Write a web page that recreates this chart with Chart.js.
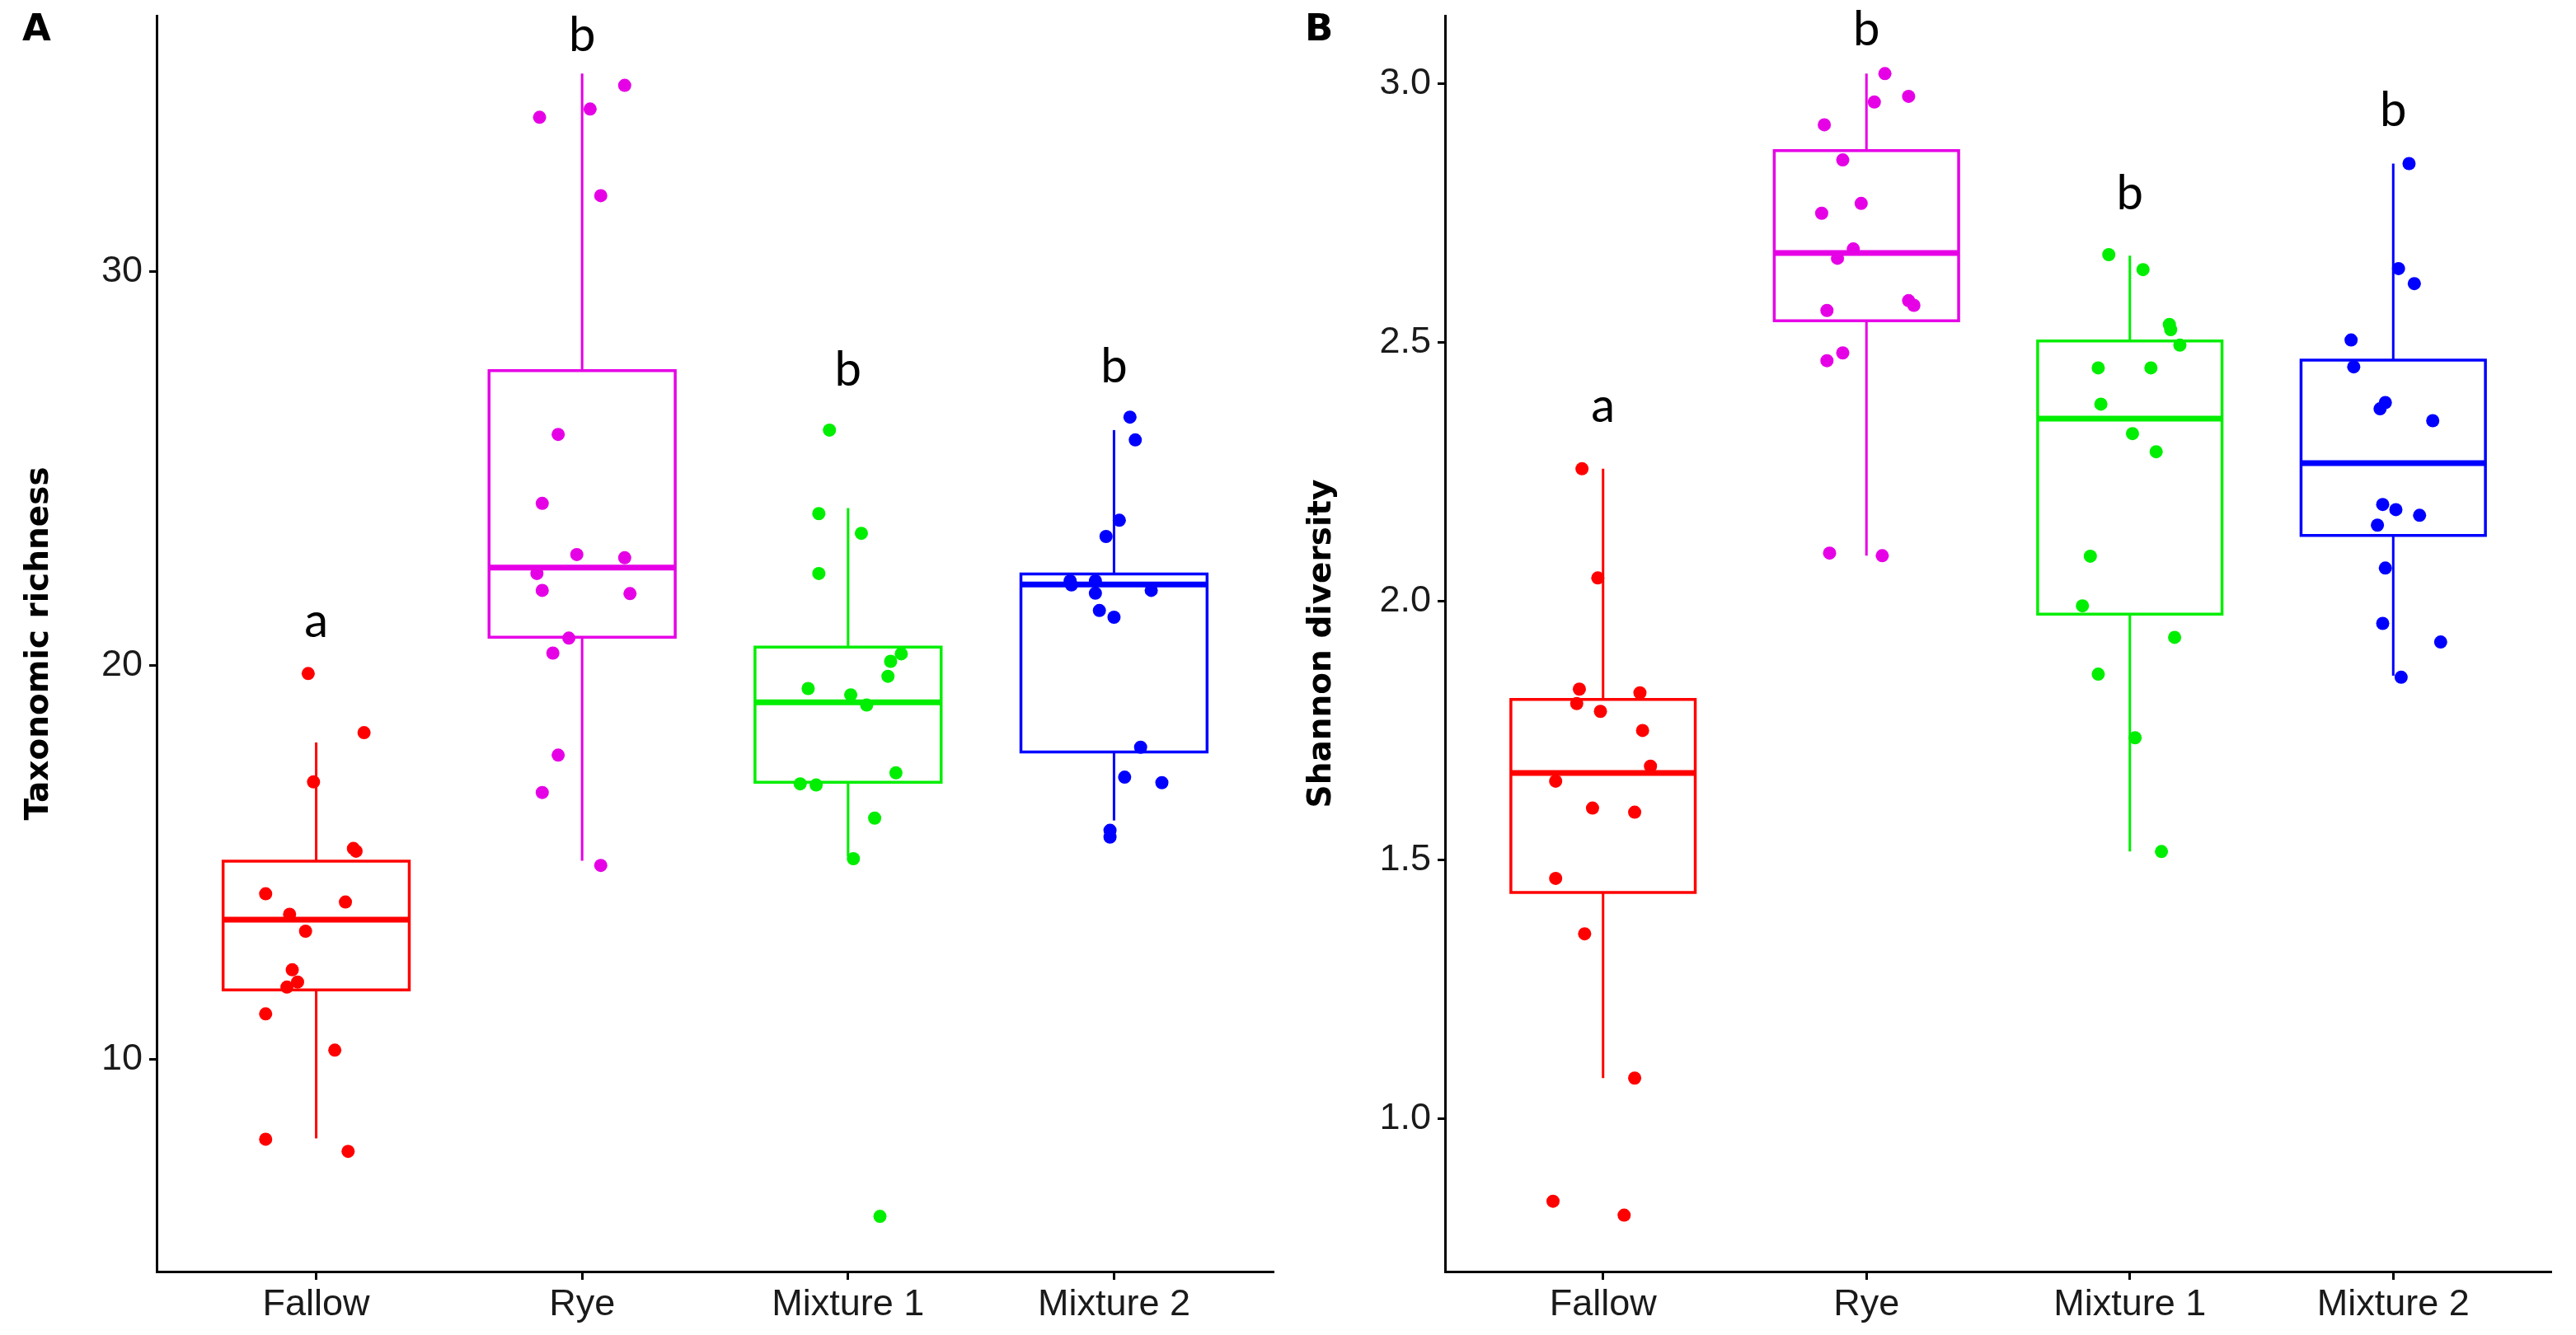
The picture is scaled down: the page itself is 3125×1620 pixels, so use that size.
<!DOCTYPE html>
<html>
<head>
<meta charset="utf-8">
<script src="https://cdn.jsdelivr.net/npm/chart.js@4.4.0/dist/chart.umd.min.js"></script>
<style>
  body { margin: 0; background: #fff; }
  canvas { position: absolute; top: 0; }
  #panelA { left: 0; }
  #panelB { left: 1562px; }
</style>
</head>
<body>
<canvas id="panelA" width="1562" height="1620"></canvas>
<canvas id="panelB" width="1563" height="1620"></canvas>
<script>
// categories and colours
const groups = ['Fallow', 'Rye', 'Mixture 1', 'Mixture 2'];
const groupColors = ['#ff0000', '#e600e6', '#00ee00', '#0000ff'];

// --- A: taxonomic richness, jittered points (value, horizontal jitter in category units)
const richFallow    = [19.8, 18.3, 17.05, 15.36, 15.29, 14.21, 14.0, 13.69, 13.26, 12.28, 11.97, 11.84, 11.16, 10.24, 7.98, 7.67];
const richFallowJit = [-0.03, 0.18, -0.01, 0.14, 0.15, -0.19, 0.11, -0.10, -0.04, -0.09, -0.07, -0.11, -0.19, 0.07, -0.19, 0.12];
const richRye       = [34.73, 34.13, 33.92, 31.93, 25.87, 24.12, 22.82, 22.74, 22.34, 21.91, 21.83, 20.70, 20.32, 17.73, 16.78, 14.93];
const richRyeJit    = [0.16, 0.03, -0.16, 0.07, -0.09, -0.15, -0.02, 0.16, -0.17, -0.15, 0.18, -0.05, -0.11, -0.09, -0.15, 0.07];
const richMix1      = [25.98, 23.86, 23.36, 22.34, 20.30, 20.11, 19.73, 19.42, 19.26, 19.0, 17.28, 17.0, 16.97, 16.13, 15.10, 6.02];
const richMix1Jit   = [-0.07, -0.11, 0.05, -0.11, 0.20, 0.16, 0.15, -0.15, 0.01, 0.07, 0.18, -0.18, -0.12, 0.10, 0.02, 0.12];
const richMix2      = [26.31, 25.73, 23.69, 23.28, 22.15, 22.05, 22.15, 21.84, 21.91, 21.40, 21.23, 17.93, 17.17, 17.03, 15.82, 15.65];
const richMix2Jit   = [0.06, 0.08, 0.02, -0.03, -0.165, -0.16, -0.07, -0.07, 0.14, -0.055, 0.0, 0.10, 0.04, 0.18, -0.015, -0.015];

// A: box statistics per group
const richLow  = [8.0, 15.05, 15.16, 16.07];
const richQ1   = [11.77, 20.72, 17.04, 17.81];
const richMed  = [13.55, 22.49, 19.07, 22.06];
const richQ3   = [15.04, 27.49, 20.47, 22.33];
const richHigh = [18.05, 35.03, 24.0, 25.98];
const richLetters = ['a', 'b', 'b', 'b'];
const richLetterY = [20.73, 35.6, 27.1, 27.2];
const richTicks = [10, 20, 30];

// --- B: Shannon diversity
const shanFallow    = [2.256, 2.045, 1.830, 1.823, 1.802, 1.787, 1.750, 1.681, 1.652, 1.600, 1.592, 1.464, 1.357, 1.078, 0.840, 0.813];
const shanFallowJit = [-0.08, -0.02, -0.09, 0.14, -0.10, -0.01, 0.15, 0.18, -0.18, -0.04, 0.12, -0.18, -0.07, 0.12, -0.19, 0.08];
const shanRye       = [3.020, 2.965, 2.976, 2.921, 2.853, 2.769, 2.750, 2.681, 2.663, 2.581, 2.572, 2.562, 2.480, 2.465, 2.093, 2.088];
const shanRyeJit    = [0.07, 0.03, 0.16, -0.16, -0.09, -0.02, -0.17, -0.05, -0.11, 0.16, 0.18, -0.15, -0.09, -0.15, -0.14, 0.06];
const shanMix1      = [2.670, 2.641, 2.535, 2.525, 2.495, 2.451, 2.451, 2.381, 2.324, 2.289, 2.087, 1.991, 1.930, 1.859, 1.736, 1.516];
const shanMix1Jit   = [-0.08, 0.05, 0.15, 0.155, 0.19, -0.12, 0.08, -0.11, 0.01, 0.10, -0.15, -0.18, 0.17, -0.12, 0.02, 0.12];
const shanMix2      = [2.846, 2.643, 2.614, 2.505, 2.453, 2.384, 2.372, 2.349, 2.187, 2.177, 2.166, 2.147, 2.064, 1.957, 1.921, 1.853];
const shanMix2Jit   = [0.06, 0.02, 0.08, -0.16, -0.15, -0.03, -0.05, 0.15, -0.04, 0.01, 0.10, -0.06, -0.03, -0.04, 0.18, 0.03];

const shanLow  = [1.078, 2.088, 1.516, 1.856];
const shanQ1   = [1.437, 2.542, 1.975, 2.127];
const shanMed  = [1.668, 2.673, 2.353, 2.267];
const shanQ3   = [1.810, 2.871, 2.503, 2.466];
const shanHigh = [2.256, 3.020, 2.668, 2.846];
const shanLetters = ['a', 'b', 'b', 'b'];
const shanLetterY = [2.347, 3.075, 2.757, 2.919];
const shanTicks = [1.0, 1.5, 2.0, 2.5, 3.0];

const HALF = 0.35; // half box width, category units

function boxSets(lo, q1, med, q3, hi) {
  const out = [];
  groups.forEach((g, i) => {
    const x = i + 1, c = groupColors[i];
    const base = { showLine: true, pointRadius: 0, borderColor: c, fill: false, order: 1, tension: 0 };
    out.push(Object.assign({}, base, { borderWidth: 3.5, borderCapStyle: 'square', borderJoinStyle: 'miter',
      data: [{x: x - HALF, y: q1[i]}, {x: x + HALF, y: q1[i]}, {x: x + HALF, y: q3[i]}, {x: x - HALF, y: q3[i]}, {x: x - HALF, y: q1[i]}] }));
    out.push(Object.assign({}, base, { borderWidth: 7, data: [{x: x - HALF, y: med[i]}, {x: x + HALF, y: med[i]}] }));
    out.push(Object.assign({}, base, { borderWidth: 3, data: [{x: x, y: q3[i]}, {x: x, y: hi[i]}] }));
    out.push(Object.assign({}, base, { borderWidth: 3, data: [{x: x, y: lo[i]}, {x: x, y: q1[i]}] }));
  });
  return out;
}

function pointSets(vals, jits) {
  return vals.map((v, i) => ({
    data: v.map((y, j) => ({x: i + 1 + jits[i][j], y: y})),
    pointRadius: 8, pointHoverRadius: 8, borderWidth: 0,
    backgroundColor: groupColors[i], showLine: false, order: 0
  }));
}

const annot = {
  id: 'annot',
  afterDraw(chart, args, o) {
    const ctx = chart.ctx, xs = chart.scales.x, ys = chart.scales.y, a = chart.chartArea;
    ctx.save();
    ctx.fillStyle = '#000';
    ctx.font = 'bold 45px "DejaVu Sans"';
    ctx.textAlign = 'left';
    ctx.textBaseline = 'alphabetic';
    ctx.fillText(o.panel, o.panelX, 49);

    ctx.font = '58px Lato';
    ctx.textAlign = 'center';
    o.letters.forEach((t, i) => {
      ctx.fillText(t, xs.getPixelForValue(i + 1), ys.getPixelForValue(o.letterY[i]));
    });

    ctx.translate(o.titleX, (a.top + a.bottom) / 2);
    ctx.rotate(-Math.PI / 2);
    ctx.font = 'bold 39px "DejaVu Sans"';
    ctx.textBaseline = 'middle';
    ctx.fillText(o.title, 0, 0);
    ctx.restore();
  }
};

function makePanel(id, cfg) {
  const tickFont = { family: 'Liberation Sans', size: 45 };
  new Chart(document.getElementById(id), {
    type: 'scatter',
    data: { datasets: boxSets(cfg.lo, cfg.q1, cfg.med, cfg.q3, cfg.hi).concat(pointSets(cfg.vals, cfg.jits)) },
    options: {
      responsive: false,
      animation: false,
      devicePixelRatio: 1,
      layout: { padding: { top: 19, right: cfg.padRight, left: 0, bottom: 0 } },
      plugins: {
        legend: { display: false },
        tooltip: { enabled: false },
        annot: cfg.annot
      },
      scales: {
        x: {
          type: 'linear', min: 0.4, max: 4.6,
          afterBuildTicks: s => { s.ticks = groups.map((g, i) => ({ value: i + 1 })); },
          afterFit: s => { s.height = 77; s.paddingLeft = 0; s.paddingRight = 0; },
          ticks: { font: tickFont, color: '#1a1a1a', padding: 4, maxRotation: 0, autoSkip: false,
                   callback: v => groups[v - 1] },
          grid: { drawOnChartArea: false, drawTicks: true, tickLength: 10, tickWidth: 3, tickColor: '#000' },
          border: { display: true, color: '#000', width: 3 }
        },
        y: {
          type: 'linear', min: cfg.yMin, max: cfg.yMax,
          afterBuildTicks: s => { s.ticks = cfg.ticks.map(v => ({ value: v })); },
          afterFit: s => { s.width = cfg.yWidth; s.paddingTop = 0; s.paddingBottom = 0; },
          ticks: { font: tickFont, color: '#1a1a1a', padding: 8, callback: cfg.tickFmt },
          grid: { drawOnChartArea: false, drawTicks: true, tickLength: 9, tickWidth: 3, tickColor: '#000' },
          border: { display: true, color: '#000', width: 3 }
        }
      }
    },
    plugins: [annot]
  });
}

makePanel('panelA', {
  vals: [richFallow, richRye, richMix1, richMix2],
  jits: [richFallowJit, richRyeJit, richMix1Jit, richMix2Jit],
  lo: richLow, q1: richQ1, med: richMed, q3: richQ3, hi: richHigh,
  yMin: 4.62, yMax: 36.5, ticks: richTicks, tickFmt: v => String(v),
  yWidth: 190, padRight: 17,
  annot: { panel: 'A', panelX: 27, title: 'Taxonomic richness', titleX: 48, letters: richLetters, letterY: richLetterY }
});

makePanel('panelB', {
  vals: [shanFallow, shanRye, shanMix1, shanMix2],
  jits: [shanFallowJit, shanRyeJit, shanMix1Jit, shanMix2Jit],
  lo: shanLow, q1: shanQ1, med: shanMed, q3: shanQ3, hi: shanHigh,
  yMin: 0.704, yMax: 3.132, ticks: shanTicks, tickFmt: v => v.toFixed(1),
  yWidth: 191, padRight: 30,
  annot: { panel: 'B', panelX: 21, title: 'Shannon diversity', titleX: 42, letters: shanLetters, letterY: shanLetterY }
});
</script>
</body>
</html>
